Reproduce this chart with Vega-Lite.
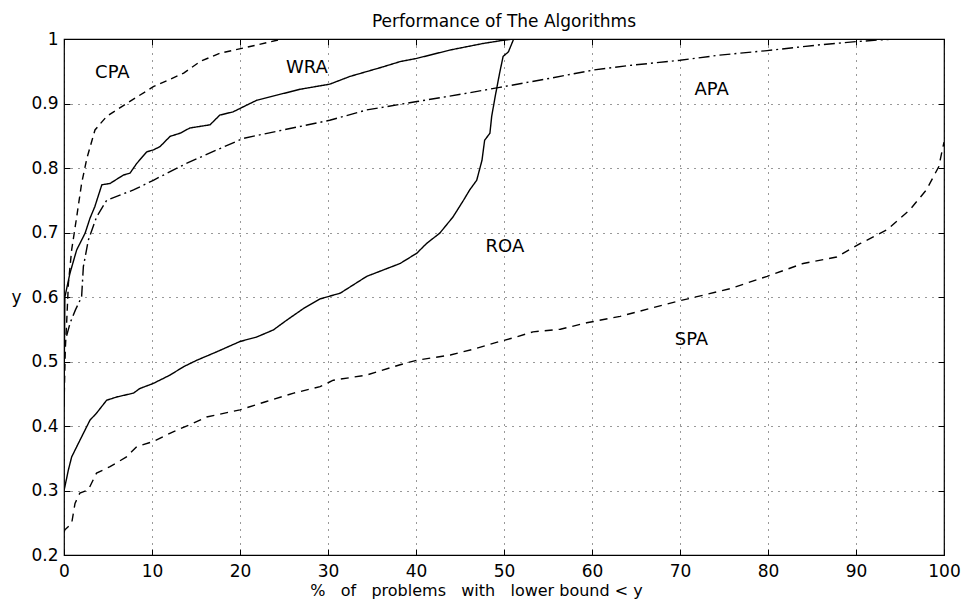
{
  "$schema": "https://vega.github.io/schema/vega-lite/v6.json",
  "width": 880,
  "height": 516,
  "autosize": "none",
  "padding": {"left": 64, "top": 39, "right": 21, "bottom": 45},
  "background": "white",
  "config": {
    "view": {"stroke": "black", "strokeWidth": 1.2},
    "font": "DejaVu Sans",
    "axis": {
      "labelFont": "DejaVu Sans", "titleFont": "DejaVu Sans",
      "labelFontSize": 17, "titleFontSize": 16, "titleFontWeight": "normal",
      "labelColor": "black", "titleColor": "black",
      "tickColor": "black", "tickSize": -6, "tickWidth": 1,
      "domain": false,
      "gridColor": "black", "gridDash": [1, 6], "gridOpacity": 0.8, "gridWidth": 1
    }
  },
  "title": {
    "text": "Performance of The Algorithms",
    "font": "DejaVu Sans", "fontSize": 17, "fontWeight": "normal", "color": "black",
    "anchor": "middle", "baseline": "alphabetic", "offset": 11, "dy": 25
  },
  "datasets": {
    "curves": [
      {"s": "CPA", "x": 0, "y": 0.43}, {"s": "CPA", "x": 0.15, "y": 0.52}, {"s": "CPA", "x": 0.3, "y": 0.56},
      {"s": "CPA", "x": 0.5, "y": 0.621}, {"s": "CPA", "x": 0.87, "y": 0.673}, {"s": "CPA", "x": 1.44, "y": 0.724},
      {"s": "CPA", "x": 2.0, "y": 0.776}, {"s": "CPA", "x": 2.6, "y": 0.815}, {"s": "CPA", "x": 3.52, "y": 0.859},
      {"s": "CPA", "x": 4.85, "y": 0.88}, {"s": "CPA", "x": 7.1, "y": 0.9}, {"s": "CPA", "x": 10.15, "y": 0.926},
      {"s": "CPA", "x": 13.6, "y": 0.947}, {"s": "CPA", "x": 15.45, "y": 0.965}, {"s": "CPA", "x": 17.7, "y": 0.978},
      {"s": "CPA", "x": 20.4, "y": 0.986}, {"s": "CPA", "x": 24.2, "y": 0.998}, {"s": "CPA", "x": 25, "y": 1.0},

      {"s": "WRA", "x": 0, "y": 0.44}, {"s": "WRA", "x": 0.1, "y": 0.6}, {"s": "WRA", "x": 0.68, "y": 0.637},
      {"s": "WRA", "x": 1.44, "y": 0.673}, {"s": "WRA", "x": 2.4, "y": 0.699}, {"s": "WRA", "x": 2.95, "y": 0.722},
      {"s": "WRA", "x": 3.5, "y": 0.74}, {"s": "WRA", "x": 4.3, "y": 0.774}, {"s": "WRA", "x": 5.23, "y": 0.776},
      {"s": "WRA", "x": 6.74, "y": 0.789}, {"s": "WRA", "x": 7.5, "y": 0.792}, {"s": "WRA", "x": 8.26, "y": 0.807},
      {"s": "WRA", "x": 9.4, "y": 0.825}, {"s": "WRA", "x": 10.15, "y": 0.828}, {"s": "WRA", "x": 10.9, "y": 0.833},
      {"s": "WRA", "x": 12.05, "y": 0.849}, {"s": "WRA", "x": 13.2, "y": 0.854}, {"s": "WRA", "x": 14.3, "y": 0.862},
      {"s": "WRA", "x": 16.6, "y": 0.867}, {"s": "WRA", "x": 17.7, "y": 0.882}, {"s": "WRA", "x": 19.2, "y": 0.887},
      {"s": "WRA", "x": 20.4, "y": 0.895}, {"s": "WRA", "x": 21.9, "y": 0.905}, {"s": "WRA", "x": 24.2, "y": 0.913},
      {"s": "WRA", "x": 26.8, "y": 0.922}, {"s": "WRA", "x": 30.2, "y": 0.93}, {"s": "WRA", "x": 32.5, "y": 0.942},
      {"s": "WRA", "x": 36.3, "y": 0.957}, {"s": "WRA", "x": 38.2, "y": 0.965}, {"s": "WRA", "x": 40.1, "y": 0.97},
      {"s": "WRA", "x": 43.9, "y": 0.983}, {"s": "WRA", "x": 47.6, "y": 0.993}, {"s": "WRA", "x": 49.9, "y": 0.998},
      {"s": "WRA", "x": 51.1, "y": 1.0},

      {"s": "APA", "x": 0.3, "y": 0.54}, {"s": "APA", "x": 0.7, "y": 0.56}, {"s": "APA", "x": 1.3, "y": 0.58},
      {"s": "APA", "x": 2.0, "y": 0.6}, {"s": "APA", "x": 2.2, "y": 0.647}, {"s": "APA", "x": 2.76, "y": 0.688},
      {"s": "APA", "x": 3.7, "y": 0.724}, {"s": "APA", "x": 4.85, "y": 0.75}, {"s": "APA", "x": 7.9, "y": 0.766},
      {"s": "APA", "x": 10.15, "y": 0.781}, {"s": "APA", "x": 13.9, "y": 0.807}, {"s": "APA", "x": 17.35, "y": 0.828},
      {"s": "APA", "x": 20.4, "y": 0.846}, {"s": "APA", "x": 24.9, "y": 0.859}, {"s": "APA", "x": 30.2, "y": 0.874},
      {"s": "APA", "x": 34.4, "y": 0.89}, {"s": "APA", "x": 40.1, "y": 0.903}, {"s": "APA", "x": 45.8, "y": 0.916},
      {"s": "APA", "x": 49.5, "y": 0.925}, {"s": "APA", "x": 55.2, "y": 0.939}, {"s": "APA", "x": 60.2, "y": 0.952},
      {"s": "APA", "x": 64.3, "y": 0.959}, {"s": "APA", "x": 70, "y": 0.967}, {"s": "APA", "x": 74.5, "y": 0.975},
      {"s": "APA", "x": 79.9, "y": 0.982}, {"s": "APA", "x": 85.9, "y": 0.991}, {"s": "APA", "x": 90.1, "y": 0.996},
      {"s": "APA", "x": 94.2, "y": 1.0},

      {"s": "ROA", "x": 0, "y": 0.3}, {"s": "ROA", "x": 0.1, "y": 0.306}, {"s": "ROA", "x": 0.5, "y": 0.332},
      {"s": "ROA", "x": 0.87, "y": 0.352}, {"s": "ROA", "x": 1.63, "y": 0.373}, {"s": "ROA", "x": 2.4, "y": 0.394},
      {"s": "ROA", "x": 2.95, "y": 0.409}, {"s": "ROA", "x": 3.7, "y": 0.42}, {"s": "ROA", "x": 4.85, "y": 0.44},
      {"s": "ROA", "x": 6.0, "y": 0.445}, {"s": "ROA", "x": 7.9, "y": 0.451}, {"s": "ROA", "x": 8.6, "y": 0.458},
      {"s": "ROA", "x": 10.15, "y": 0.466}, {"s": "ROA", "x": 12.05, "y": 0.479}, {"s": "ROA", "x": 13.6, "y": 0.492},
      {"s": "ROA", "x": 15.1, "y": 0.502}, {"s": "ROA", "x": 17.35, "y": 0.515}, {"s": "ROA", "x": 20, "y": 0.531},
      {"s": "ROA", "x": 21.9, "y": 0.538}, {"s": "ROA", "x": 23.8, "y": 0.549}, {"s": "ROA", "x": 25.3, "y": 0.564},
      {"s": "ROA", "x": 27.2, "y": 0.582}, {"s": "ROA", "x": 29.1, "y": 0.597}, {"s": "ROA", "x": 31.4, "y": 0.606},
      {"s": "ROA", "x": 34.4, "y": 0.632}, {"s": "ROA", "x": 38.2, "y": 0.652}, {"s": "ROA", "x": 40.1, "y": 0.668},
      {"s": "ROA", "x": 41.2, "y": 0.683}, {"s": "ROA", "x": 42.7, "y": 0.699}, {"s": "ROA", "x": 44.2, "y": 0.724},
      {"s": "ROA", "x": 45.4, "y": 0.75}, {"s": "ROA", "x": 46.1, "y": 0.766}, {"s": "ROA", "x": 46.9, "y": 0.781},
      {"s": "ROA", "x": 47.5, "y": 0.812}, {"s": "ROA", "x": 47.8, "y": 0.843}, {"s": "ROA", "x": 48.4, "y": 0.854},
      {"s": "ROA", "x": 48.6, "y": 0.88}, {"s": "ROA", "x": 49.0, "y": 0.911}, {"s": "ROA", "x": 49.5, "y": 0.947},
      {"s": "ROA", "x": 49.9, "y": 0.973}, {"s": "ROA", "x": 50.5, "y": 0.98}, {"s": "ROA", "x": 51.1, "y": 1.0},

      {"s": "SPA", "x": 0, "y": 0.235}, {"s": "SPA", "x": 0.1, "y": 0.239}, {"s": "SPA", "x": 0.87, "y": 0.249},
      {"s": "SPA", "x": 1.25, "y": 0.28}, {"s": "SPA", "x": 1.8, "y": 0.296}, {"s": "SPA", "x": 2.76, "y": 0.301},
      {"s": "SPA", "x": 3.7, "y": 0.327}, {"s": "SPA", "x": 5.23, "y": 0.337}, {"s": "SPA", "x": 7.1, "y": 0.352},
      {"s": "SPA", "x": 8.26, "y": 0.368}, {"s": "SPA", "x": 10.15, "y": 0.376}, {"s": "SPA", "x": 12.4, "y": 0.391},
      {"s": "SPA", "x": 14.3, "y": 0.402}, {"s": "SPA", "x": 16.2, "y": 0.414}, {"s": "SPA", "x": 20, "y": 0.425},
      {"s": "SPA", "x": 23, "y": 0.438}, {"s": "SPA", "x": 26.1, "y": 0.451}, {"s": "SPA", "x": 29.1, "y": 0.461},
      {"s": "SPA", "x": 30.6, "y": 0.471}, {"s": "SPA", "x": 34.4, "y": 0.479}, {"s": "SPA", "x": 38.2, "y": 0.495},
      {"s": "SPA", "x": 40.1, "y": 0.502}, {"s": "SPA", "x": 43.9, "y": 0.51}, {"s": "SPA", "x": 46.5, "y": 0.519},
      {"s": "SPA", "x": 49.5, "y": 0.531}, {"s": "SPA", "x": 51.4, "y": 0.538}, {"s": "SPA", "x": 53.3, "y": 0.546},
      {"s": "SPA", "x": 56.4, "y": 0.55}, {"s": "SPA", "x": 59.4, "y": 0.56}, {"s": "SPA", "x": 63.2, "y": 0.57},
      {"s": "SPA", "x": 69.6, "y": 0.593}, {"s": "SPA", "x": 72.7, "y": 0.603}, {"s": "SPA", "x": 75.7, "y": 0.613},
      {"s": "SPA", "x": 79.9, "y": 0.632}, {"s": "SPA", "x": 84, "y": 0.652}, {"s": "SPA", "x": 87.8, "y": 0.662},
      {"s": "SPA", "x": 90.5, "y": 0.683}, {"s": "SPA", "x": 93.5, "y": 0.704}, {"s": "SPA", "x": 96.1, "y": 0.735},
      {"s": "SPA", "x": 98, "y": 0.766}, {"s": "SPA", "x": 99.4, "y": 0.802}, {"s": "SPA", "x": 100, "y": 0.84}
    ],
    "labels": [
      {"label": "CPA", "x": 5.5, "y": 0.947},
      {"label": "WRA", "x": 27.6, "y": 0.955},
      {"label": "APA", "x": 73.6, "y": 0.921},
      {"label": "ROA", "x": 50.1, "y": 0.677},
      {"label": "SPA", "x": 71.3, "y": 0.533}
    ]
  },
  "layer": [
    {
      "data": {"name": "curves"},
      "mark": {"type": "line", "color": "black", "strokeWidth": 1.4, "clip": true},
      "encoding": {
        "x": {
          "field": "x", "type": "quantitative",
          "scale": {"domain": [0, 100], "nice": false, "zero": false},
          "axis": {
            "values": [0, 10, 20, 30, 40, 50, 60, 70, 80, 90, 100],
            "grid": true, "labelPadding": 14, "labelFlush": false,
            "title": "%\u00a0\u00a0 of\u00a0\u00a0 problems\u00a0\u00a0 with\u00a0\u00a0 lower bound < y",
            "titleX": 412, "titleY": 40, "titleAlign": "center", "titleBaseline": "alphabetic"
          }
        },
        "y": {
          "field": "y", "type": "quantitative",
          "scale": {"domain": [0.2, 1], "nice": false, "zero": false},
          "axis": {
            "values": [0.2, 0.3, 0.4, 0.5, 0.6, 0.7, 0.8, 0.9, 1],
            "labelExpr": "datum.value == 1 ? '1' : format(datum.value, '.1f')",
            "grid": true, "labelPadding": 12, "labelFlush": false,
            "title": "y", "titleAngle": 0, "titleX": -48, "titleY": 258,
            "titleFontSize": 17,
            "titleAlign": "center", "titleBaseline": "middle"
          }
        },
        "detail": {"field": "s"},
        "strokeDash": {
          "field": "s", "type": "nominal",
          "scale": {
            "domain": ["CPA", "WRA", "APA", "ROA", "SPA"],
            "range": [[7, 5], [1, 0], [11, 4, 2, 4], [1, 0], [8, 6]]
          },
          "legend": null
        }
      }
    },
    {
      "data": {"name": "labels"},
      "mark": {"type": "text", "font": "DejaVu Sans", "fontSize": 18, "color": "black", "align": "center", "baseline": "middle"},
      "encoding": {
        "x": {"field": "x", "type": "quantitative", "axis": {"orient": "top", "labels": false, "grid": false, "title": null, "values": [0, 10, 20, 30, 40, 50, 60, 70, 80, 90, 100]}},
        "y": {"field": "y", "type": "quantitative", "axis": {"orient": "right", "labels": false, "grid": false, "title": null, "values": [0.2, 0.3, 0.4, 0.5, 0.6, 0.7, 0.8, 0.9, 1]}},
        "text": {"field": "label"}
      }
    }
  ],
  "resolve": {"axis": {"x": "independent", "y": "independent"}}
}
